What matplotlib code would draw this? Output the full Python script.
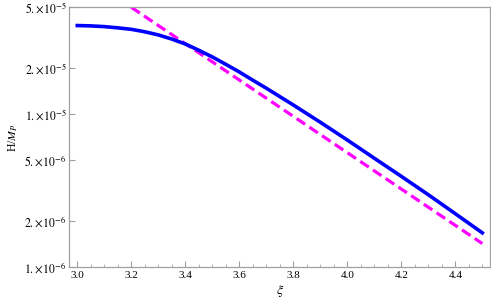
import numpy as np
import matplotlib
matplotlib.use('Agg')
import matplotlib.pyplot as plt
from matplotlib.ticker import FixedLocator, MultipleLocator, NullLocator

plt.rcParams['font.family'] = ['Liberation Serif', 'DejaVu Serif']
plt.rcParams['mathtext.fontset'] = 'stix'

# valores
xi = [3.0, 3.05, 3.1, 3.15, 3.2, 3.25, 3.3, 3.35, 3.4, 3.45, 3.5, 3.55, 3.6, 3.65,
      3.7, 3.8, 3.9, 4.0, 4.1, 4.2, 4.3, 4.4, 4.5]
H = [3.80e-5, 3.78e-5, 3.74e-5, 3.67e-5, 3.59e-5, 3.46e-5, 3.30e-5, 3.10e-5,
     2.88e-5, 2.62e-5, 2.37e-5, 2.12e-5, 1.89e-5, 1.67e-5, 1.48e-5,
     1.15e-5, 8.87e-6, 6.79e-6, 5.16e-6, 3.93e-6, 2.98e-6, 2.24e-6, 1.68e-6]

xi_aprox = [3.2, 4.5]
H_aprox = [5.0e-5, 1.43e-6]

yticks = [1e-6, 2e-6, 5e-6, 1e-5, 2e-5, 5e-5]
ylabels = [r'$1.\!\times\!10^{-6}$', r'$2.\!\times\!10^{-6}$', r'$5.\!\times\!10^{-6}$',
           r'$1.\!\times\!10^{-5}$', r'$2.\!\times\!10^{-5}$', r'$5.\!\times\!10^{-5}$']

fig = plt.figure(figsize=(4.91, 3.08), dpi=100)
ax = fig.add_axes([0.1411, 0.1321, 0.9986 - 0.1411, 0.9763 - 0.1321])

ax.plot(xi_aprox, H_aprox, color='#ff00ff', lw=2.3, dashes=(3.2, 1.6), solid_capstyle='butt')
ax.plot(xi, H, color='#0000ff', lw=2.6, solid_joinstyle='round')

ax.set_yscale('log')
ax.set_xlim(2.9704, 4.5296)
ax.set_ylim(1e-6, 5e-5)

ax.yaxis.set_major_locator(FixedLocator(yticks))
ax.set_yticklabels(ylabels)
ax.yaxis.set_minor_locator(NullLocator())
ax.xaxis.set_major_locator(FixedLocator([3.0, 3.2, 3.4, 3.6, 3.8, 4.0, 4.2, 4.4]))
ax.set_xticklabels(['3.0', '3.2', '3.4', '3.6', '3.8', '4.0', '4.2', '4.4'])
ax.xaxis.set_minor_locator(MultipleLocator(0.05))

for s in ax.spines.values():
    s.set_color('#a0a0a0')
    s.set_linewidth(0.9)

ax.tick_params(which='both', direction='in', color='#a0a0a0', labelsize=8, top=False, right=False)
ax.tick_params(which='major', length=4, width=0.8, pad=3)
ax.tick_params(which='minor', length=2, width=0.6)
ax.tick_params(axis='y', labelsize=8.5, pad=2)

ax.set_xlabel(r'$\xi$', fontsize=10, labelpad=2)
ax.set_ylabel(r'H/$M_P$', fontsize=8.5, labelpad=3)

plt.savefig('out.png', dpi=100)
